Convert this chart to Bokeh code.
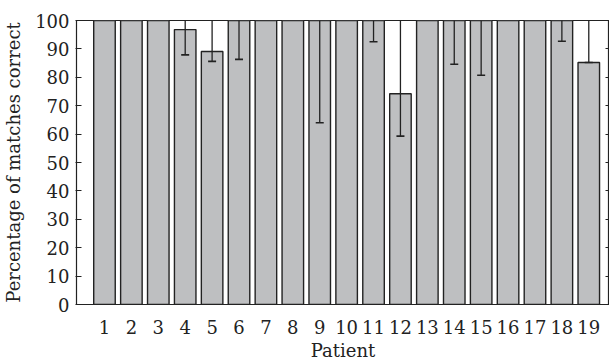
from bokeh.plotting import figure
from bokeh.models import (ColumnDataSource, Range1d, FixedTicker, LinearAxis, Whisker,
                          TeeHead, CustomJSTickFormatter)
from bokeh.embed import file_html
from bokeh.resources import INLINE

patients = list(range(1, 20))
pct_correct = [100, 100, 100, 96.8, 89.1, 100, 100, 100, 100, 100,
               100, 74.2, 100, 100, 100, 100, 100, 100, 85.2]
err_low = [None, None, None, 87.9, 85.6, 86.3, None, None, 64.0, None,
           92.5, 59.3, None, 84.6, 80.7, None, None, 92.7, 85.2]
err_high = [None, None, None, 100, 100, 100, None, None, 100, None,
            100, 100, None, 100, 100, None, None, 100, 100]
y_ticks = [0, 10, 20, 30, 40, 50, 60, 70, 80, 90, 100]

FONT = "DejaVu Serif"
TXT = "#222222"

p = figure(width=609, height=363, output_backend="svg", toolbar_location=None,
           x_range=Range1d(-0.04, 19.77), y_range=Range1d(0, 100),
           min_border_left=76, min_border_right=0, min_border_top=20, min_border_bottom=59)
p.grid.visible = False
p.outline_line_color = "#222222"
p.outline_line_width = 1.2
p.background_fill_color = "white"
p.border_fill_color = "white"

src = ColumnDataSource(dict(x=patients, top=pct_correct))
p.vbar(x="x", top="top", bottom=0, width=0.8, source=src,
       fill_color="#bebfc1", line_color="#222222", line_width=1.4)

idx = [i for i, v in enumerate(err_low) if v is not None]
esrc = ColumnDataSource(dict(x=[patients[i] for i in idx],
                             lower=[err_low[i] for i in idx],
                             upper=[err_high[i] for i in idx]))
w = Whisker(base="x", lower="lower", upper="upper", source=esrc,
            line_color="#222222", line_width=1.3,
            upper_head=None,
            lower_head=TeeHead(size=8, line_color="#222222", line_width=1.6),
            level="overlay")
p.add_layout(w)

# y axis
p.yaxis.ticker = FixedTicker(ticks=y_ticks)
p.yaxis.axis_label = "Percentage of matches correct"
p.yaxis.axis_label_text_font = FONT
p.yaxis.axis_label_text_font_style = "normal"
p.yaxis.axis_label_text_font_size = "18px"
p.yaxis.axis_label_text_color = TXT
p.yaxis.axis_label_standoff = 8
p.yaxis.major_label_text_font = FONT
p.yaxis.major_label_text_font_size = "18px"
p.yaxis.major_label_text_color = TXT
p.yaxis.major_label_standoff = 6
p.yaxis.major_tick_in = 5
p.yaxis.major_tick_out = 1
p.yaxis.minor_tick_in = 0
p.yaxis.minor_tick_out = 0
p.yaxis.axis_line_color = "#222222"
p.yaxis.major_tick_line_color = "#222222"

# x axis
p.xaxis.ticker = FixedTicker(ticks=patients)
p.xaxis.axis_label = "Patient"
p.xaxis.axis_label_text_font = FONT
p.xaxis.axis_label_text_font_style = "normal"
p.xaxis.axis_label_text_font_size = "18px"
p.xaxis.axis_label_text_color = TXT
p.xaxis.axis_label_text_line_height = 0.8
p.xaxis.axis_label_standoff = 3
p.xaxis.major_label_text_font = FONT
p.xaxis.major_label_text_font_size = "18px"
p.xaxis.major_label_text_color = TXT
p.xaxis.major_label_text_line_height = 0.8
p.xaxis.major_label_standoff = 15
p.xaxis.major_tick_in = 0
p.xaxis.major_tick_out = 0
p.xaxis.minor_tick_in = 0
p.xaxis.minor_tick_out = 0
p.xaxis.axis_line_color = "#222222"

# right axis: inward ticks only
ra = LinearAxis(ticker=FixedTicker(ticks=y_ticks),
                formatter=CustomJSTickFormatter(code="return ''"),
                major_tick_in=4, major_tick_out=0, minor_tick_in=0, minor_tick_out=0,
                major_label_standoff=0, axis_line_color=None,
                major_tick_line_color="#222222")
p.add_layout(ra, "right")

open("out.html", "w").write(file_html(p, INLINE))
